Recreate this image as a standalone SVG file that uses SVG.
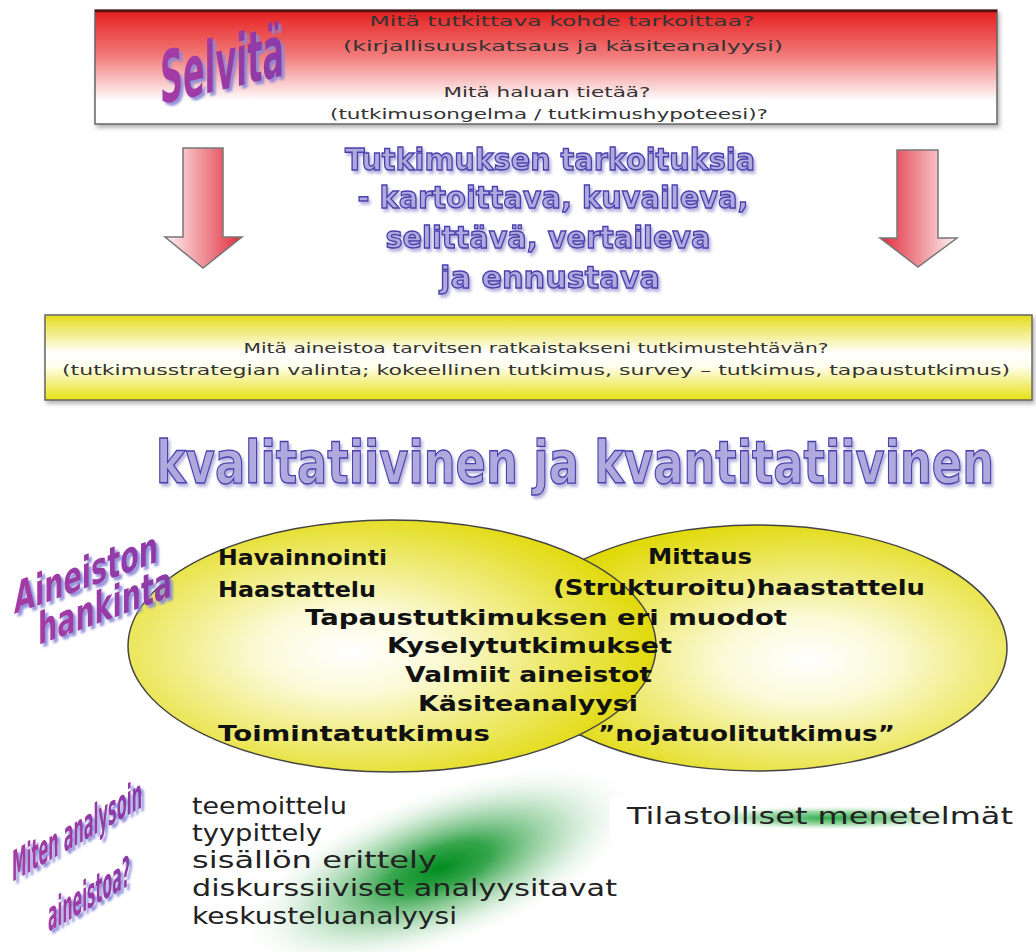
<svg xmlns="http://www.w3.org/2000/svg" width="1036" height="952" viewBox="0 0 1036 952">
<defs>
<linearGradient id="gRed" x1="0" y1="0" x2="0" y2="1">
<stop offset="0" stop-color="#e41e1e"/><stop offset="0.4" stop-color="#f37a7a"/><stop offset="0.8" stop-color="#ffffff"/><stop offset="1" stop-color="#ffffff"/>
</linearGradient>
<linearGradient id="gYel" x1="0" y1="0" x2="0" y2="1">
<stop offset="0" stop-color="#e6dc1a"/><stop offset="0.45" stop-color="#ffffff"/><stop offset="0.6" stop-color="#fffff0"/><stop offset="1" stop-color="#e8e010"/>
</linearGradient>
<linearGradient id="gArrL" x1="0" y1="0" x2="1" y2="0">
<stop offset="0" stop-color="#fff4f4"/><stop offset="1" stop-color="#e02a3a"/>
</linearGradient>
<linearGradient id="gArrR" x1="0" y1="0" x2="1" y2="0">
<stop offset="0" stop-color="#e02a3a"/><stop offset="1" stop-color="#fff4f4"/>
</linearGradient>
<radialGradient id="gEllL" cx="0.42" cy="0.52" r="0.6">
<stop offset="0" stop-color="#ffffff"/><stop offset="0.28" stop-color="#fbfad8"/><stop offset="1" stop-color="#e0d800"/>
</radialGradient>
<radialGradient id="gEllR" cx="0.6" cy="0.55" r="0.6">
<stop offset="0" stop-color="#ffffff"/><stop offset="0.28" stop-color="#fbfad8"/><stop offset="1" stop-color="#e0d800"/>
</radialGradient>
<radialGradient id="gGreen" cx="0.5" cy="0.5" r="0.5">
<stop offset="0" stop-color="#008c1e"/><stop offset="0.25" stop-color="#14962e" stop-opacity="0.85"/><stop offset="0.6" stop-color="#60b870" stop-opacity="0.4"/><stop offset="1" stop-color="#ffffff" stop-opacity="0"/>
</radialGradient>
<radialGradient id="gGreen2" cx="0.5" cy="0.5" r="0.5">
<stop offset="0" stop-color="#20a840" stop-opacity="0.95"/><stop offset="0.5" stop-color="#60c070" stop-opacity="0.6"/><stop offset="1" stop-color="#ffffff" stop-opacity="0"/>
</radialGradient>
<linearGradient id="gPurple" x1="0" y1="0" x2="1" y2="0">
<stop offset="0" stop-color="#a63aa4"/><stop offset="1" stop-color="#8a3aa8"/>
</linearGradient>
<filter id="purSh" x="-25%" y="-60%" width="150%" height="220%">
<feDropShadow dx="3" dy="3" stdDeviation="0.8" flood-color="#8888d8" flood-opacity="0.9"/>
</filter>
<filter id="lavSh" x="-10%" y="-50%" width="120%" height="200%">
<feDropShadow dx="2" dy="3" stdDeviation="1.5" flood-color="#7a72c0" flood-opacity="0.55"/>
</filter>
<filter id="shadow" x="-5%" y="-20%" width="110%" height="140%">
<feDropShadow dx="2" dy="3" stdDeviation="2" flood-color="#666" flood-opacity="0.5"/>
</filter>
</defs>
<style>
.boxtxt{font-family:"DejaVu Sans",Verdana,sans-serif;font-size:14.5px;fill:#333;text-anchor:middle}
.lav{font-family:"DejaVu Sans",Verdana,sans-serif;font-weight:bold;fill:#b0a9de;stroke:#4a40ad;stroke-width:1.4;text-anchor:middle}
.pur{font-family:"DejaVu Sans Condensed","Liberation Sans Narrow",sans-serif;font-weight:bold;fill:url(#gPurple)}
.ell{font-family:"DejaVu Sans",Verdana,sans-serif;font-weight:bold;font-size:22px;fill:#111}
.ana{font-family:"DejaVu Sans",Verdana,sans-serif;font-size:23px;fill:#222}
</style>
<rect width="1036" height="952" fill="#ffffff"/>

<g id="top-box">
<rect x="95" y="10" width="902" height="114" fill="url(#gRed)" stroke="#666" stroke-width="1.5" filter="url(#shadow)"/>
<line x1="95" y1="11" x2="997" y2="11" stroke="#5a1010" stroke-width="2.5"/>
<text class="boxtxt" x="562" y="26" textLength="385" lengthAdjust="spacingAndGlyphs">Mitä tutkittava kohde tarkoittaa?</text>
<text class="boxtxt" x="563" y="51" textLength="440" lengthAdjust="spacingAndGlyphs">(kirjallisuuskatsaus ja käsiteanalyysi)</text>
<text class="boxtxt" x="547" y="97" textLength="207" lengthAdjust="spacingAndGlyphs">Mitä haluan tietää?</text>
<text class="boxtxt" x="549" y="119" textLength="438" lengthAdjust="spacingAndGlyphs">(tutkimusongelma / tutkimushypoteesi)?</text>
</g>

<g id="label-selvita" filter="url(#purSh)">
<g transform="translate(160,104) skewY(-13)">
<text class="pur" x="0" y="0" font-size="72" textLength="124" lengthAdjust="spacingAndGlyphs">Selvitä</text>
</g>
</g>

<g id="connectors">
<path d="M183,148 H223 V237 H242 L203,268 L165,237 H183 Z" fill="url(#gArrL)" stroke="#777" stroke-width="1.5"/>
<path d="M897,150 H938 V238 H957 L918,267 L880,238 H897 Z" fill="url(#gArrR)" stroke="#777" stroke-width="1.5"/>
</g>

<g id="purposes" filter="url(#lavSh)">
<text class="lav" x="550" y="170" font-size="31" textLength="410" lengthAdjust="spacingAndGlyphs">Tutkimuksen tarkoituksia</text>
<text class="lav" x="553" y="208" font-size="31" textLength="391" lengthAdjust="spacingAndGlyphs">- kartoittava, kuvaileva,</text>
<text class="lav" x="548" y="248" font-size="31" textLength="325" lengthAdjust="spacingAndGlyphs">selittävä, vertaileva</text>
<text class="lav" x="550" y="288" font-size="31" textLength="220" lengthAdjust="spacingAndGlyphs">ja ennustava</text>
</g>

<g id="data-box">
<rect x="45" y="315" width="987" height="85" fill="url(#gYel)" stroke="#666" stroke-width="1.5" filter="url(#shadow)"/>
<text class="boxtxt" x="536" y="353" textLength="585" lengthAdjust="spacingAndGlyphs">Mitä aineistoa tarvitsen ratkaistakseni tutkimustehtävän?</text>
<text class="boxtxt" x="536" y="375" textLength="948" lengthAdjust="spacingAndGlyphs">(tutkimusstrategian valinta; kokeellinen tutkimus, survey – tutkimus, tapaustutkimus)</text>
</g>

<g id="title-approaches" filter="url(#lavSh)">
<text class="lav" x="575" y="483" font-size="58" textLength="838" lengthAdjust="spacingAndGlyphs" stroke-width="1.6">kvalitatiivinen ja kvantitatiivinen</text>
</g>

<g id="ellipse-quantitative">
<ellipse cx="757" cy="648" rx="250" ry="123" fill="url(#gEllR)" stroke="#444" stroke-width="1.5"/>
</g>
<g id="ellipse-qualitative">
<ellipse cx="392" cy="646" rx="264" ry="126" fill="url(#gEllL)" stroke="#444" stroke-width="1.5"/>
</g>

<g id="methods-text">
<text class="ell" x="218" y="565" textLength="169" lengthAdjust="spacingAndGlyphs">Havainnointi</text>
<text class="ell" x="218" y="597" textLength="158" lengthAdjust="spacingAndGlyphs">Haastattelu</text>
<text class="ell" x="305" y="625" textLength="482" lengthAdjust="spacingAndGlyphs">Tapaustutkimuksen eri muodot</text>
<text class="ell" x="387" y="653" textLength="285" lengthAdjust="spacingAndGlyphs">Kyselytutkimukset</text>
<text class="ell" x="405" y="682" textLength="247" lengthAdjust="spacingAndGlyphs">Valmiit aineistot</text>
<text class="ell" x="418" y="711" textLength="220" lengthAdjust="spacingAndGlyphs">Käsiteanalyysi</text>
<text class="ell" x="218" y="741" textLength="272" lengthAdjust="spacingAndGlyphs">Toimintatutkimus</text>
<text class="ell" x="648" y="564" textLength="104" lengthAdjust="spacingAndGlyphs">Mittaus</text>
<text class="ell" x="553" y="595" textLength="372" lengthAdjust="spacingAndGlyphs">(Strukturoitu)haastattelu</text>
<text class="ell" x="598" y="741" textLength="297" lengthAdjust="spacingAndGlyphs">”nojatuolitutkimus”</text>
</g>

<g id="label-aineiston-hankinta" filter="url(#purSh)">
<g transform="translate(14,614) skewY(-20)">
<text class="pur" x="0" y="0" font-size="44" textLength="144" lengthAdjust="spacingAndGlyphs">Aineiston</text>
</g>
<g transform="translate(38,645) skewY(-20)">
<text class="pur" x="0" y="0" font-size="44" textLength="134" lengthAdjust="spacingAndGlyphs">hankinta</text>
</g>
</g>

<g id="analysis">
<ellipse cx="440" cy="868" rx="215" ry="80" fill="url(#gGreen)" transform="rotate(-20 440 868)"/>
<rect x="610" y="796" width="426" height="42" fill="#ffffff"/>
<ellipse cx="830" cy="818" rx="150" ry="13" fill="url(#gGreen2)"/>
<text class="ana" x="192" y="814" textLength="155" lengthAdjust="spacingAndGlyphs">teemoittelu</text>
<text class="ana" x="192" y="841" textLength="130" lengthAdjust="spacingAndGlyphs">tyypittely</text>
<text class="ana" x="192" y="868" textLength="245" lengthAdjust="spacingAndGlyphs">sisällön erittely</text>
<text class="ana" x="192" y="896" textLength="425" lengthAdjust="spacingAndGlyphs">diskurssiiviset analyysitavat</text>
<text class="ana" x="192" y="924" textLength="265" lengthAdjust="spacingAndGlyphs">keskusteluanalyysi</text>
<text class="ana" x="627" y="824" textLength="386" lengthAdjust="spacingAndGlyphs">Tilastolliset menetelmät</text>
</g>

<g id="label-miten-analysoin" filter="url(#purSh)">
<g transform="translate(12,882) skewY(-30)">
<text class="pur" x="0" y="0" font-size="42" textLength="130" lengthAdjust="spacingAndGlyphs">Miten analysoin</text>
</g>
<g transform="translate(48,932) skewY(-30)">
<text class="pur" x="0" y="0" font-size="42" textLength="82" lengthAdjust="spacingAndGlyphs">aineistoa?</text>
</g>
</g>
</svg>
